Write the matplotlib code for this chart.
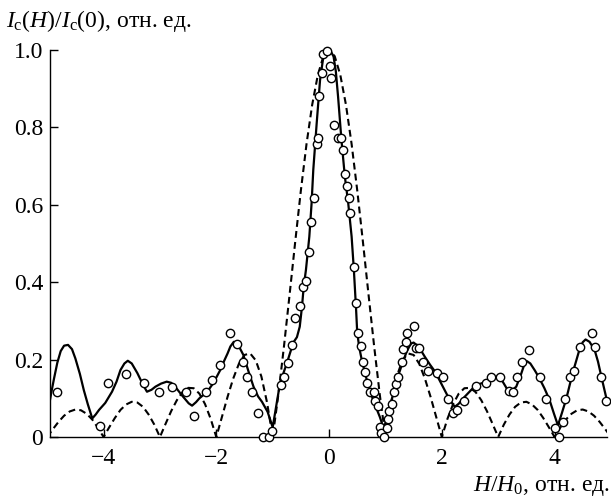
import numpy as np
import matplotlib
matplotlib.use("Agg")
import matplotlib.pyplot as plt

plt.rcParams['font.family'] = ['Liberation Serif', 'DejaVu Serif']
plt.rcParams['mathtext.fontset'] = 'custom'
plt.rcParams['mathtext.rm'] = 'Liberation Serif'
plt.rcParams['mathtext.it'] = 'Liberation Serif:italic'

# measured points (circles)
pts_x = [-4.82, -4.07, -3.92, -3.60, -3.28, -3.01, -2.78, -2.54, -2.39, -2.19,
         -2.07, -1.94, -1.75, -1.63, -1.53, -1.45, -1.36, -1.26, -1.17, -1.07,
         -1.01, -0.85, -0.80, -0.73, -0.66, -0.60, -0.52, -0.47, -0.41, -0.35,
         -0.32, -0.27, -0.22, -0.20, -0.17, -0.13, -0.10, -0.03, 0.01, 0.04,
         0.08, 0.15, 0.21, 0.25, 0.29, 0.31, 0.36, 0.38, 0.44, 0.48,
         0.51, 0.56, 0.61, 0.63, 0.67, 0.73, 0.80, 0.81, 0.86, 0.90,
         0.93, 0.98, 1.03, 1.05, 1.07, 1.12, 1.15, 1.19, 1.22, 1.29,
         1.32, 1.36, 1.39, 1.50, 1.55, 1.60, 1.67, 1.76, 1.91, 2.02,
         2.11, 2.20, 2.27, 2.39, 2.61, 2.78, 2.88, 3.04, 3.19, 3.27,
         3.34, 3.43, 3.55, 3.75, 3.84, 4.01, 4.07, 4.15, 4.19, 4.28,
         4.34, 4.45, 4.67, 4.72, 4.82, 4.92]
pts_y = [0.116, 0.029, 0.139, 0.162, 0.140, 0.115, 0.130, 0.115, 0.054, 0.117,
         0.146, 0.186, 0.270, 0.240, 0.193, 0.154, 0.115, 0.062, 0.001, 0.000,
         0.016, 0.134, 0.154, 0.192, 0.238, 0.308, 0.339, 0.387, 0.403, 0.479,
         0.556, 0.618, 0.756, 0.773, 0.881, 0.941, 0.990, 0.998, 0.959, 0.928,
         0.806, 0.773, 0.772, 0.742, 0.680, 0.649, 0.618, 0.580, 0.440, 0.347,
         0.270, 0.236, 0.193, 0.169, 0.139, 0.115, 0.116, 0.094, 0.080, 0.027,
         0.011, 0.001, 0.022, 0.046, 0.067, 0.084, 0.117, 0.137, 0.154, 0.193,
         0.227, 0.246, 0.270, 0.287, 0.229, 0.229, 0.193, 0.171, 0.165, 0.154,
         0.098, 0.061, 0.070, 0.093, 0.132, 0.139, 0.156, 0.156, 0.120, 0.117,
         0.154, 0.193, 0.225, 0.154, 0.098, 0.022, 0.001, 0.040, 0.098, 0.154,
         0.171, 0.232, 0.270, 0.232, 0.156, 0.094]

# solid curve (fit through the data)
fit_x = [-4.95, -4.92, -4.88, -4.82, -4.76, -4.70, -4.63, -4.56, -4.50, -4.42,
         -4.35, -4.28, -4.20, -4.14, -4.08, -3.97, -3.85, -3.77, -3.70, -3.63,
         -3.57, -3.50, -3.40, -3.30, -3.23, -3.15, -3.08, -2.98, -2.88, -2.80,
         -2.73, -2.60, -2.49, -2.43, -2.36, -2.30, -2.16, -2.05, -1.93, -1.86,
         -1.80, -1.75, -1.69, -1.62, -1.52, -1.43, -1.34, -1.26, -1.19, -1.09,
         -1.00, -0.93, -0.87, -0.81, -0.75, -0.69, -0.63, -0.57, -0.52, -0.48,
         -0.45, -0.41, -0.35, -0.31, -0.28, -0.22, -0.16, -0.10, -0.06, -0.03,
         0.03, 0.08, 0.12, 0.16, 0.22, 0.28, 0.34, 0.40, 0.44, 0.48,
         0.50, 0.54, 0.58, 0.67, 0.78, 0.90, 0.97, 1.05, 1.11, 1.17,
         1.23, 1.29, 1.37, 1.42, 1.46, 1.50, 1.55, 1.62, 1.70, 1.79,
         1.88, 2.02, 2.14, 2.23, 2.30, 2.38, 2.55, 2.67, 2.79, 2.90,
         3.00, 3.08, 3.17, 3.24, 3.32, 3.40, 3.47, 3.51, 3.57, 3.65,
         3.73, 3.82, 3.91, 3.99, 4.06, 4.13, 4.21, 4.32, 4.44, 4.50,
         4.55, 4.62, 4.71, 4.77, 4.83, 4.94]
fit_y = [0.096, 0.120, 0.150, 0.192, 0.222, 0.236, 0.238, 0.227, 0.203, 0.163,
         0.121, 0.085, 0.048, 0.058, 0.070, 0.088, 0.117, 0.143, 0.173, 0.190,
         0.197, 0.190, 0.165, 0.135, 0.117, 0.122, 0.130, 0.138, 0.143, 0.140,
         0.130, 0.106, 0.087, 0.081, 0.090, 0.100, 0.117, 0.140, 0.173, 0.197,
         0.216, 0.234, 0.246, 0.240, 0.212, 0.170, 0.130, 0.105, 0.091, 0.065,
         0.025, 0.087, 0.139, 0.165, 0.190, 0.218, 0.245, 0.258, 0.285, 0.337,
         0.388, 0.432, 0.518, 0.604, 0.690, 0.810, 0.922, 0.984, 0.998, 1.000,
         0.997, 0.983, 0.945, 0.879, 0.767, 0.673, 0.604, 0.518, 0.432, 0.328,
         0.268, 0.228, 0.199, 0.147, 0.096, 0.052, 0.022, 0.061, 0.096, 0.130,
         0.160, 0.186, 0.218, 0.233, 0.242, 0.244, 0.238, 0.226, 0.207, 0.187,
         0.169, 0.130, 0.096, 0.078, 0.086, 0.100, 0.126, 0.137, 0.143, 0.151,
         0.158, 0.143, 0.121, 0.120, 0.130, 0.160, 0.190, 0.196, 0.190, 0.172,
         0.152, 0.126, 0.096, 0.060, 0.030, 0.062, 0.100, 0.165, 0.225, 0.245,
         0.252, 0.246, 0.225, 0.195, 0.156, 0.087]

# dashed curve, read every 0.1 from -5 to 5
theory_x = np.linspace(-5, 5, 101)
theory_y = [0, .020, .039, .055, .066, .071, .069, .060, .045, .024,
            0, .025, .049, .070, .084, .091, .089, .078, .058, .032,
            0, .034, .067, .095, .116, .127, .126, .112, .085, .047,
            0, .052, .104, .151, .189, .212, .216, .198, .156, .089,
            0, .109, .234, .368, .505, .637, .757, .858, .935, .984,
            1.0,
            .984, .935, .858, .757, .637, .505, .368, .234, .109, 0,
            .089, .156, .198, .216, .212, .189, .151, .104, .052, 0,
            .047, .085, .112, .126, .127, .116, .095, .067, .034, 0,
            .032, .058, .078, .089, .091, .084, .070, .049, .025, 0,
            .024, .045, .060, .069, .071, .066, .055, .039, .020, 0]

xticks = [-4, -2, 0, 2, 4]
xticklabels = ['\u22124', '\u22122', '0', '2', '4']
yticks = [0, 0.2, 0.4, 0.6, 0.8, 1.0]
yticklabels = ['0', '0.2', '0.4', '0.6', '0.8', '1.0']

fig = plt.figure(figsize=(6.11, 5.04), dpi=100)
ax = fig.add_axes([50 / 611, 67 / 504, 557 / 611, 387 / 504])

ax.plot(theory_x, theory_y, color='black', lw=1.5, ls=(0, (3.3, 2.0)), zorder=2)
ax.plot(fit_x, fit_y, color='black', lw=1.6, zorder=3)
ax.plot(pts_x, pts_y, ls='none', marker='o', ms=6, mfc='white', mec='black',
        mew=1.0, zorder=4, clip_on=False)

ax.set_xlim(-4.95, 4.93)
ax.set_ylim(0, 1.0)
ax.set_xticks(xticks)
ax.set_xticklabels(xticklabels)
ax.set_yticks(yticks)
ax.set_yticklabels(yticklabels)

for s in ['top', 'right']:
    ax.spines[s].set_visible(False)
for s in ['left', 'bottom']:
    ax.spines[s].set_linewidth(1.0)

ax.tick_params(axis='both', direction='in', length=6, width=1.0, labelsize=17)
ax.tick_params(axis='x', pad=8)
ax.tick_params(axis='y', pad=5)

fig.text(0.01, 1 - 27 / 504, r'$I_{\rm c}(H)/I_{\rm c}(0)$, отн. ед.',
         fontsize=17, ha='left', va='baseline')
fig.text(0.998, 1 - 491 / 504, r'$H/H_0$, отн. ед.',
         fontsize=17, ha='right', va='baseline')

fig.savefig('out.png', dpi=100)
